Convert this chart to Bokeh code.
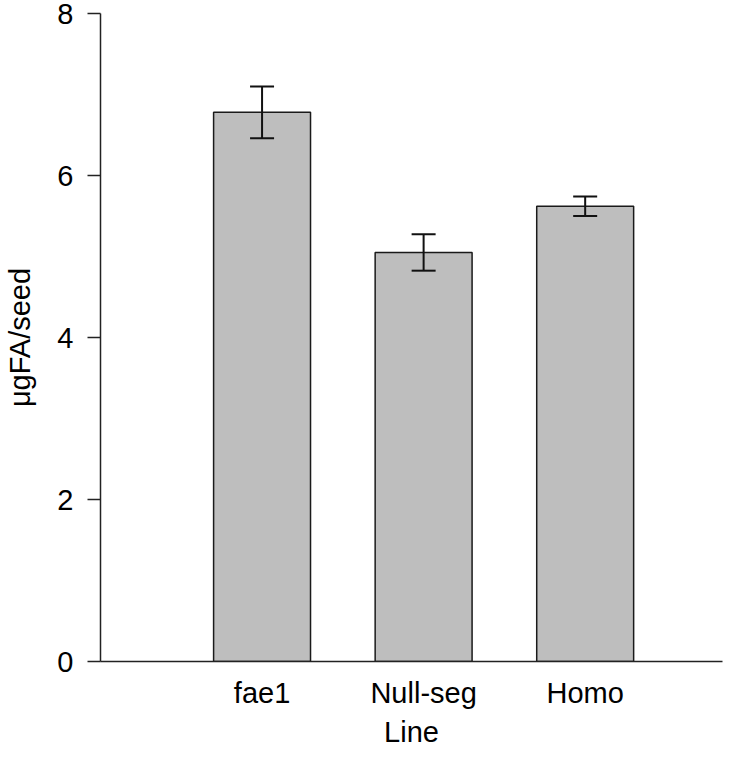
from bokeh.plotting import figure
from bokeh.models import ColumnDataSource, Range1d, FixedTicker, Whisker, TeeHead
from bokeh.embed import file_html
from bokeh.resources import INLINE

# ---- data ----
lines = ["fae1", "Null-seg", "Homo"]
means = [6.78, 5.05, 5.62]
errors = [0.32, 0.225, 0.12]
y_ticks = [0, 2, 4, 6, 8]
x_title = "Line"
y_title = "\u03bcgFA/seed"

x_pos = [i + 1 for i in range(len(lines))]
upper = [m + e for m, e in zip(means, errors)]
lower = [m - e for m, e in zip(means, errors)]

src = ColumnDataSource(data=dict(x=x_pos, line=lines, mean=means, upper=upper, lower=lower))

FONT = "Liberation Sans"
FS = "29px"

p = figure(width=735, height=750, output_backend="svg", toolbar_location=None,
           x_range=Range1d(0, 3.85), y_range=Range1d(0, 8),
           min_border_left=100, min_border_top=13, min_border_bottom=89, min_border_right=13)
p.outline_line_color = None
p.grid.visible = False
p.background_fill_color = "white"
p.border_fill_color = "white"

p.vbar(x="x", top="mean", bottom=0, width=0.6, source=src,
       fill_color="#bebebe", line_color="#1a1a1a", line_width=1.5)

w = Whisker(source=src, base="x", upper="upper", lower="lower",
            line_color="#111111", line_width=2,
            upper_head=TeeHead(size=24, line_color="#111111", line_width=2),
            lower_head=TeeHead(size=24, line_color="#111111", line_width=2))
w.level = "overlay"
p.add_layout(w)

# y axis
ya = p.yaxis[0]
ya.ticker = FixedTicker(ticks=y_ticks)
ya.minor_tick_line_color = None
ya.major_tick_out = 13
ya.major_tick_in = 0
ya.axis_line_color = "#222222"
ya.axis_line_width = 1.5
ya.major_tick_line_color = "#222222"
ya.major_tick_line_width = 1.5
ya.major_label_text_font = FONT
ya.major_label_text_font_size = FS
ya.major_label_text_color = "black"
ya.major_label_standoff = 14
ya.axis_label = y_title
ya.axis_label_text_font = FONT
ya.axis_label_text_font_size = FS
ya.axis_label_text_font_style = "normal"
ya.axis_label_text_color = "black"
ya.axis_label_standoff = 18

# x axis
xa = p.xaxis[0]
xa.ticker = FixedTicker(ticks=x_pos)
xa.major_label_overrides = {x: name for x, name in zip(x_pos, lines)}
xa.minor_tick_line_color = None
xa.major_tick_line_color = None
xa.major_tick_out = 0
xa.major_tick_in = 0
xa.axis_line_color = "#222222"
xa.axis_line_width = 1.5
xa.major_label_text_font = FONT
xa.major_label_text_font_size = FS
xa.major_label_text_color = "black"
xa.major_label_standoff = 15
xa.axis_label = x_title
xa.axis_label_text_font = FONT
xa.axis_label_text_font_size = FS
xa.axis_label_text_font_style = "normal"
xa.axis_label_text_color = "black"
xa.axis_label_standoff = 4

open("out.html", "w").write(file_html(p, INLINE))
